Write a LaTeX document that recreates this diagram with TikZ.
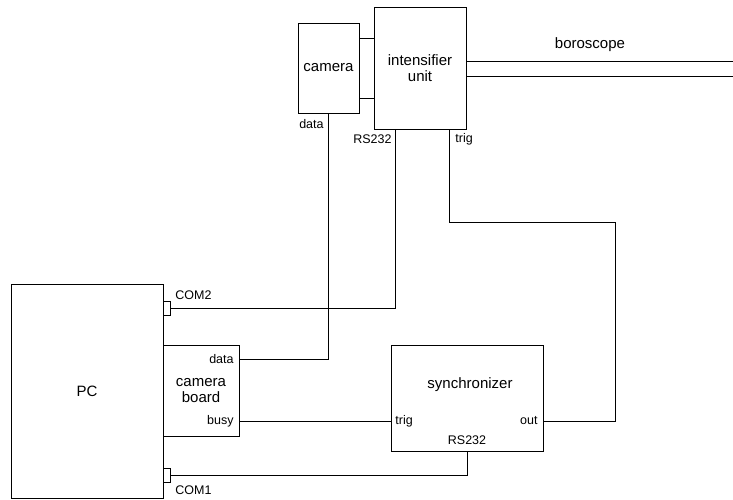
\documentclass[tikz,border=0pt]{standalone}
\usepackage{fontspec}
\setmainfont{Liberation Sans}
\usepackage{tikz}
\usetikzlibrary{positioning,calc}

\begin{document}
\begin{tikzpicture}[x=1pt, y=-1pt, line width=0.8pt,
  unitbox/.style={draw, inner sep=0pt, align=center, font=\fontsize{15}{16}\selectfont},
  port/.style={draw, inner sep=0pt, minimum width=7pt, minimum height=14pt},
  tag/.style={inner sep=0pt, font=\fontsize{12.5}{14}\selectfont}]

\useasboundingbox (0,0) rectangle (733,499);

% Units
\node[unitbox, minimum width=61pt, minimum height=90pt] (cam) at (328.5,68) {camera};
\node[unitbox, minimum width=92pt, minimum height=122pt] (iu) at (420,68) {intensifier\\unit};
\node[unitbox, minimum width=152pt, minimum height=214pt] (pc) at (87,391) {PC};
\node[unitbox, minimum width=76pt, minimum height=91pt] (cb) at (201,390.5) {camera\\board};
\node[unitbox, minimum width=152pt, minimum height=106pt] (sync) at (467,398) {};
\node[font=\fontsize{15}{16}\selectfont] (synctext) at (470,385) {synchronizer};

% COM ports
\node[port] (com2) at (166.5,308) {};
\node[port] (com1) at (166.5,475) {};

% Port coordinates
\coordinate (iu-rs) at (395,129);
\coordinate (iu-trig) at (449,129);
\coordinate (cb-data) at (239,359);
\coordinate (cb-busy) at (239,421);
\coordinate (sync-trig) at (391,421);
\coordinate (sync-out) at (543,421);
\coordinate (bend) at (615,222);
\coordinate (bs1) at (733,61);
\coordinate (bs2) at (733,76);

% Camera to intensifier
\draw (cam.east |- 0,38) -- (iu.west |- 0,38);
\draw (cam.east |- 0,98) -- (iu.west |- 0,98);

% Boroscope
\draw (iu.east |- bs1) -- (bs1);
\draw (iu.east |- bs2) -- (bs2);
\node[font=\fontsize{15}{16}\selectfont] (bs) at (590,45) {boroscope};

% Cables
\draw (cam.south) |- (cb-data);
\draw (iu-rs) |- (com2.east);
\draw (iu-trig) |- (bend) |- (sync-out);
\draw (cb-busy) -- (sync-trig);
\draw (com1.east) -| (sync.south);

% Labels
\node[tag, anchor=east] (l1) at (324,124) {data};
\node[tag, anchor=east] (l2) at (392,139) {RS232};
\node[tag, anchor=west] (l3) at (455,139) {trig};
\node[tag, anchor=west] (l4) at (175,295) {COM2};
\node[tag, anchor=west] (l5) at (175,490) {COM1};
\node[tag, anchor=east] (l6) at (234,359) {data};
\node[tag, anchor=east] (l7) at (234,421) {busy};
\node[tag, anchor=west] (l8) at (395,421) {trig};
\node[tag, anchor=east] (l9) at (538,421) {out};
\node[tag] (l10) at (467,440) {RS232};

\end{tikzpicture}
\end{document}
